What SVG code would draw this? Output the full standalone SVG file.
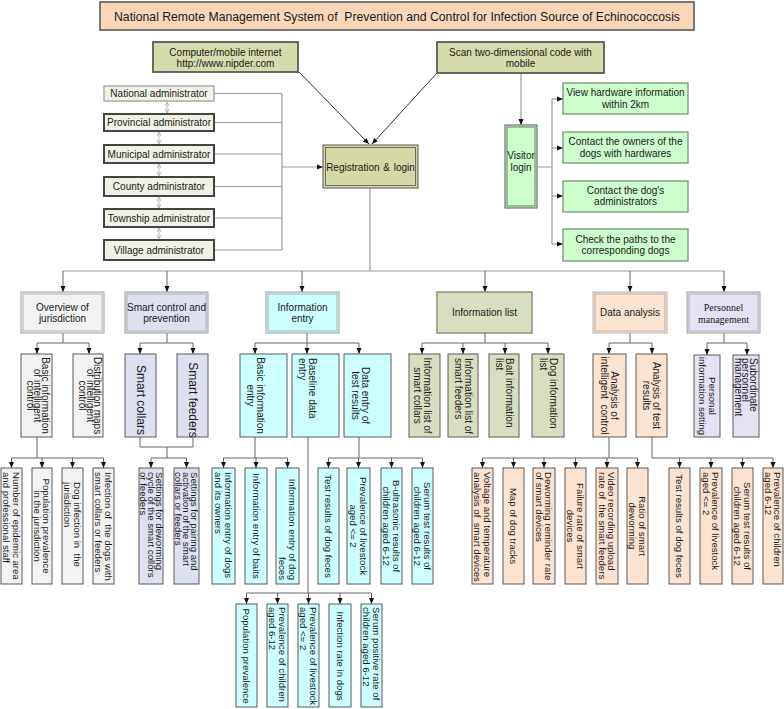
<svg xmlns="http://www.w3.org/2000/svg" width="784" height="709" viewBox="0 0 784 709">
<defs>
<style>
text{font-family:"Liberation Sans",Arial,Helvetica,sans-serif;fill:#1a1a1a}
.h{font-size:10px;text-anchor:middle}
.v{font-size:9.6px}
.v3{font-size:10px}
.serif{font-family:"Liberation Serif","Times New Roman",serif}
.ln{stroke:#666;stroke-width:1;fill:none}
.lg{stroke:#999;stroke-width:1.2;fill:none}
.dk{stroke:#333;stroke-width:1;fill:none}
.ar{marker-end:url(#ah)}
.da{marker-start:url(#dh);marker-end:url(#dh);stroke:#bbb;stroke-width:1;fill:none}
.gy{fill:#f2f2f2}
.bl{fill:#dde0ef}
.cy{fill:#ccffff}
.ol{fill:#d8dec1}
.pc{fill:#fbe3d2}
.lv{fill:#e3e1f2}
.b3{stroke:#5a5a5a;stroke-width:1}
.o2{stroke:#a0a0a0;stroke-width:1}
.i2{fill:none;stroke:#b0b0b0;stroke-width:1}
.adm{fill:#eff1e5;stroke:#444;stroke-width:2}
.gr{fill:#ccffcc;stroke:#6f8a6f;stroke-width:1.2}
</style>
<marker id="ah" viewBox="0 0 6 6" refX="6" refY="3" markerWidth="6" markerHeight="6" orient="auto" markerUnits="userSpaceOnUse"><path d="M0,0.5 L6,3 L0,5.5z" fill="#111"/></marker>
<marker id="dh" viewBox="0 0 6 6" refX="5" refY="3" markerWidth="5" markerHeight="5" orient="auto-start-reverse" markerUnits="userSpaceOnUse"><path d="M0.5,0.5 L5.5,3 L0.5,5.5" fill="none" stroke="#aaa" stroke-width="1"/></marker>
</defs>
<rect width="784" height="709" fill="#fff"/>

<g id="connectors">
<path class="dk ar" d="M299,72 L369,144"/>
<path class="dk ar" d="M437,73 L372,144"/>
<path class="lg" d="M214,93.5H282 M214,122.5H282 M214,154H282 M214,186.5H282 M214,218H282 M214,250H282 M282,93.5V250"/>
<path class="lg ar" d="M282,167H323"/>
<path class="da" d="M167,102.5V112.5"/>
<path class="da" d="M159,132.5V143.5"/>
<path class="da" d="M159,164.5V175.5"/>
<path class="da" d="M159,197.5V207.5"/>
<path class="da" d="M159,228.5V238.5"/>
<path class="lg ar" d="M521,73V125"/>
<path class="lg" d="M537,167H552 M552,99V244"/>
<path class="lg ar" d="M552,99H563"/>
<path class="lg ar" d="M552,148H563"/>
<path class="lg ar" d="M552,196H563"/>
<path class="lg ar" d="M552,244H563"/>
<path class="lg" d="M370,188V271 M63,271H724"/>
<path class="ln ar" d="M63,271V292"/>
<path class="ln ar" d="M167,271V292"/>
<path class="ln ar" d="M302,271V292"/>
<path class="ln ar" d="M485,271V292"/>
<path class="ln ar" d="M630,271V292"/>
<path class="ln ar" d="M724,271V292"/>
<path class="ln" d="M63,333V343 M37,343H89 M167,333V343 M140,343H193 M307,333V343 M255,343H359 M485,333V343 M422,343H548 M630,333V343 M609,343H652 M724,333V343 M707,343H747"/>
<path class="ln ar" d="M37,343V354"/>
<path class="ln ar" d="M89,343V354"/>
<path class="ln ar" d="M140,343V354"/>
<path class="ln ar" d="M193,343V354"/>
<path class="ln ar" d="M255,343V354"/>
<path class="ln ar" d="M307,343V354"/>
<path class="ln ar" d="M359,343V354"/>
<path class="ln ar" d="M422,343V354"/>
<path class="ln ar" d="M463,343V354"/>
<path class="ln ar" d="M505,343V354"/>
<path class="ln ar" d="M548,343V354"/>
<path class="ln ar" d="M609,343V354"/>
<path class="ln ar" d="M652,343V354"/>
<path class="ln ar" d="M707,343V355"/>
<path class="ln ar" d="M747,343V355"/>
<path class="ln" d="M37,437V458 M11.5,458H103.5 M140,437V447H193V437 M167,447V458 M151,458H186.5 M255,437V458 M223.5,458H287.5 M308,437V593 M246.5,593H371.5 M359,437V458 M328.5,458H422.5 M609,437V458 M482.5,458H637.5 M652,437V458H773"/>
<path class="ln ar" d="M11.5,458V468"/>
<path class="ln ar" d="M42,458V468"/>
<path class="ln ar" d="M72.5,458V468"/>
<path class="ln ar" d="M103.5,458V468"/>
<path class="ln ar" d="M151,458V468"/>
<path class="ln ar" d="M186.5,458V468"/>
<path class="ln ar" d="M223.5,458V468"/>
<path class="ln ar" d="M256,458V468"/>
<path class="ln ar" d="M287.5,458V468"/>
<path class="ln ar" d="M328.5,458V468"/>
<path class="ln ar" d="M358.5,458V468"/>
<path class="ln ar" d="M391.5,458V468"/>
<path class="ln ar" d="M422.5,458V468"/>
<path class="ln ar" d="M482.5,458V468"/>
<path class="ln ar" d="M513.5,458V468"/>
<path class="ln ar" d="M544,458V468"/>
<path class="ln ar" d="M575.5,458V468"/>
<path class="ln ar" d="M607,458V468"/>
<path class="ln ar" d="M637.5,458V468"/>
<path class="ln ar" d="M679.5,458V468"/>
<path class="ln ar" d="M711,458V468"/>
<path class="ln ar" d="M742.5,458V468"/>
<path class="ln ar" d="M773,458V468"/>
<path class="ln ar" d="M246.5,593V604"/>
<path class="ln ar" d="M277.5,593V604"/>
<path class="ln ar" d="M308.5,593V604"/>
<path class="ln ar" d="M340,593V604"/>
<path class="ln ar" d="M371.5,593V604"/>
</g>

<g id="title"><rect x="100" y="2" width="594" height="28" fill="#fbd6b8" stroke="#6b6b6b" stroke-width="1.8"/><text x="397" y="20.5" font-size="13" text-anchor="middle" textLength="566" lengthAdjust="spacingAndGlyphs" xml:space="preserve">National Remote Management System of  Prevention and Control for Infection Source of Echinococcosis</text></g>

<g id="computer"><rect x="153" y="42" width="145" height="30" fill="#d6dbab" stroke="#5a5a5a" stroke-width="1.8"/><text class="h"><tspan x="225.5" y="55.5">Computer/mobile internet</tspan><tspan x="225.5" y="67">http://www.nipder.com</tspan></text></g>
<g id="scan"><rect x="437" y="42" width="167" height="31" fill="#d6dbab" stroke="#5a5a5a" stroke-width="1.8"/><text class="h"><tspan x="520.5" y="55.5">Scan two-dimensional code with</tspan><tspan x="520.5" y="67">mobile</tspan></text></g>
<g id="registration"><rect x="323" y="145" width="95" height="43" fill="#d3d8a5" stroke="#555" stroke-width="1"/><rect x="325.5" y="147.5" width="90" height="38" fill="none" stroke="#555" stroke-width="0.8"/><text class="h" x="370.5" y="170.5" word-spacing="1">Registration &amp; login</text></g>

<g id="adm-national"><rect x="104" y="86" width="110" height="15" fill="#f1f3e7" stroke="#aaa" stroke-width="1.5"/><text class="h" x="159" y="97">National administrator</text></g>
<g id="adm-provincial"><rect class="adm" x="104" y="114" width="110" height="17"/><text class="h" x="159" y="126">Provincial administrator</text></g>
<g id="adm-municipal"><rect class="adm" x="104" y="145" width="110" height="18"/><text class="h" x="159" y="157.5">Municipal administrator</text></g>
<g id="adm-county"><rect class="adm" x="104" y="177" width="110" height="19"/><text class="h" x="159" y="190">County administrator</text></g>
<g id="adm-township"><rect class="adm" x="104" y="209" width="110" height="18"/><text class="h" x="159" y="221.5">Township administrator</text></g>
<g id="adm-village"><rect class="adm" x="104" y="240" width="110" height="20"/><text class="h" x="159" y="253.5">Village administrator</text></g>

<g id="visitor"><rect x="505" y="125" width="32" height="83" fill="#ccffcc" stroke="#555" stroke-width="1"/><rect x="507" y="127" width="28" height="79" fill="none" stroke="#555" stroke-width="0.8"/><text class="h"><tspan x="521" y="159">Visitor</tspan><tspan x="521" y="171">login</tspan></text></g>
<g id="v-hardware"><rect class="gr" x="563" y="83" width="125" height="31"/><text class="h"><tspan x="625.5" y="96.2">View hardware information</tspan><tspan x="625.5" y="107.6">within 2km</tspan></text></g>
<g id="v-owners"><rect class="gr" x="563" y="132" width="125" height="31"/><text class="h"><tspan x="625.5" y="145.2">Contact the owners of the</tspan><tspan x="625.5" y="156.8">dogs with hardwares</tspan></text></g>
<g id="v-admins"><rect class="gr" x="563" y="181" width="125" height="31"/><text class="h"><tspan x="625.5" y="193.6">Contact the dog's</tspan><tspan x="625.5" y="205.2">administrators</tspan></text></g>
<g id="v-paths"><rect class="gr" x="563" y="229" width="125" height="32"/><text class="h"><tspan x="625.5" y="242.5">Check the paths to the</tspan><tspan x="625.5" y="254.2">corresponding dogs</tspan></text></g>

<g id="overview"><rect class="gy o2" x="21" y="292" width="83" height="41"/><rect class="i2" x="23" y="294" width="79" height="37"/><text class="h"><tspan x="62.5" y="310.5">Overview of</tspan><tspan x="62.5" y="322">jurisdiction</tspan></text></g>
<g id="smart"><rect class="bl o2" x="125" y="292" width="83" height="41"/><rect class="i2" x="127" y="294" width="79" height="37"/><text class="h"><tspan x="166.5" y="310.5">Smart control and</tspan><tspan x="166.5" y="322">prevention</tspan></text></g>
<g id="entry"><rect class="cy o2" x="266" y="292" width="73" height="41"/><rect class="i2" x="268" y="294" width="69" height="37"/><text class="h"><tspan x="302.5" y="310.5">Information</tspan><tspan x="302.5" y="322">entry</tspan></text></g>
<g id="list"><rect class="ol" x="437" y="292" width="95" height="41" stroke="#8a8f78" stroke-width="1.5"/><text class="h" x="484.5" y="316">Information list</text></g>
<g id="analysis"><rect class="pc" x="593" y="292" width="74" height="41" stroke="#bfb0a6" stroke-width="1"/><rect class="i2" x="595" y="294" width="70" height="37" stroke="#c8b8ad"/><text class="h" x="630" y="316">Data analysis</text></g>
<g id="personnel"><rect class="lv o2" x="687" y="292" width="73" height="41"/><rect class="i2" x="689" y="294" width="69" height="37"/><text class="h serif"><tspan x="723.5" y="310.5">Personnel</tspan><tspan x="723.5" y="322.5">management</tspan></text></g>

<g id="ov-basic"><rect class="gy b3" x="21" y="354" width="31" height="83"/><text class="v3" transform="translate(37.5,395.5) rotate(90)" text-anchor="middle"><tspan x="0" y="-4">Basic information</tspan><tspan x="0" dy="7.5">of intelligent</tspan><tspan x="0" dy="7.5">control</tspan></text></g>
<g id="ov-maps"><rect class="gy b3" x="73" y="354" width="30" height="83"/><text class="v3" transform="translate(90,395.5) rotate(90)" text-anchor="middle"><tspan x="0" y="-4">Distribution maps</tspan><tspan x="0" dy="7.5">of intelligent</tspan><tspan x="0" dy="7.5">control</tspan></text></g>
<g id="sc-collars"><rect class="bl b3" x="125" y="354" width="31" height="83"/><text font-size="12" transform="translate(141,400) rotate(90)" text-anchor="middle" y="4.2">Smart collars</text></g>
<g id="sc-feeders"><rect class="bl b3" x="177" y="354" width="31" height="83"/><text font-size="12" transform="translate(193,400) rotate(90)" text-anchor="middle" y="4.2">Smart feeders</text></g>
<g id="ie-basic"><rect class="cy b3" x="240" y="354" width="47" height="83"/><text class="v3" transform="translate(255,395.5) rotate(90)" text-anchor="middle"><tspan x="0" y="-1.5">Basic information</tspan><tspan x="0" dy="10">entry</tspan></text></g>
<g id="ie-baseline"><rect class="cy b3" x="292" y="354" width="47" height="83"/><text class="v3" transform="translate(307.5,358) rotate(90)"><tspan x="0" y="-1.5">Baseline data</tspan><tspan x="0" dy="10">entry</tspan></text></g>
<g id="ie-test"><rect class="cy b3" x="344" y="354" width="47" height="83"/><text class="v3" transform="translate(360,395.5) rotate(90)" text-anchor="middle"><tspan x="0" y="-1.5">Data entry of</tspan><tspan x="0" dy="10">test results</tspan></text></g>
<g id="il-collars"><rect class="ol b3" x="409" y="354" width="31" height="83"/><text class="v3" transform="translate(422.5,395.5) rotate(90)" text-anchor="middle"><tspan x="0" y="-1.5">Information list of</tspan><tspan x="0" dy="10">smart collars</tspan></text></g>
<g id="il-feeders"><rect class="ol b3" x="448" y="354" width="30" height="83"/><text class="v3" transform="translate(463,358) rotate(90)"><tspan x="0" y="-1.5">Information list of</tspan><tspan x="0" dy="10">smart feeders</tspan></text></g>
<g id="il-bait"><rect class="ol b3" x="489" y="354" width="30" height="83"/><text class="v3" transform="translate(504.5,358) rotate(90)"><tspan x="0" y="-1.5">Bait information</tspan><tspan x="0" dy="10">list</tspan></text></g>
<g id="il-dog"><rect class="ol b3" x="532" y="354" width="32" height="83"/><text class="v3" transform="translate(548,358) rotate(90)"><tspan x="0" y="-1.5">Dog information</tspan><tspan x="0" dy="10">list</tspan></text></g>
<g id="da-control"><rect class="pc b3" x="593" y="354" width="33" height="83"/><text class="v3" transform="translate(609.5,395.5) rotate(90)" text-anchor="middle" xml:space="preserve"><tspan x="0" y="-1.5">Analysis of</tspan><tspan x="0" dy="10">intelligent  control</tspan></text></g>
<g id="da-test"><rect class="pc b3" x="636" y="354" width="31" height="83"/><text class="v3" transform="translate(651.5,395.5) rotate(90)" text-anchor="middle"><tspan x="0" y="-1.5">Analysis of test</tspan><tspan x="0" dy="10">results</tspan></text></g>
<g id="pm-personal"><rect class="lv b3" x="694" y="355" width="26" height="82"/><text class="v" transform="translate(707,396) rotate(90)" text-anchor="middle"><tspan x="0" y="-1.6">Personal</tspan><tspan x="0" dy="10">information setting</tspan></text></g>
<g id="pm-sub"><rect class="lv b3" x="733" y="355" width="26" height="82"/><text class="v3" transform="translate(745.5,358) rotate(90)"><tspan x="0" y="-4">Subordinate</tspan><tspan x="0" dy="7.5">personnel</tspan><tspan x="0" dy="7.5">management</tspan></text></g>

<g id="ov-staff"><rect class="gy b3" x="1" y="468" width="21" height="116"/><text class="v" transform="translate(11.5,472) rotate(90)"><tspan x="0" y="-1.4">Number of epidemic area</tspan><tspan x="0" dy="9.5">and professional staff</tspan></text></g>
<g id="ov-population"><rect class="gy b3" x="32" y="468" width="20" height="116"/><text class="v" transform="translate(42,526) rotate(90)" text-anchor="middle"><tspan x="0" y="-1.4">Population prevalence</tspan><tspan x="0" dy="9.5">in the jurisdiction</tspan></text></g>
<g id="ov-dog"><rect class="gy b3" x="62" y="468" width="21" height="116"/><text class="v" transform="translate(72.5,482) rotate(90)" xml:space="preserve"><tspan x="0" y="-1.4">Dog infection in  the</tspan><tspan x="0" dy="9.5">jurisdiction</tspan></text></g>
<g id="ov-infection"><rect class="gy b3" x="93" y="468" width="21" height="116"/><text class="v" transform="translate(103.5,472) rotate(90)" xml:space="preserve"><tspan x="0" y="-1.4">Infection of  the dogs with</tspan><tspan x="0" dy="9.5">smart collars or feeders</tspan></text></g>
<g id="sc-cycle"><rect class="bl b3" x="139" y="468" width="24" height="116"/><text class="v" transform="translate(151,472) rotate(90)"><tspan x="0" y="-4.6">Settings for deworming</tspan><tspan x="0" dy="8">cycle of the smart collors</tspan><tspan x="0" dy="8">or feeders</tspan></text></g>
<g id="sc-pairing"><rect class="bl b3" x="174" y="468" width="25" height="116"/><text class="v" transform="translate(186.5,472) rotate(90)"><tspan x="0" y="-4.6">Settings for pairing and</tspan><tspan x="0" dy="8">activation of the smart</tspan><tspan x="0" dy="8">collars or feeders</tspan></text></g>
<g id="ie-dogs"><rect class="cy b3" x="212" y="468" width="23" height="116"/><text class="v" transform="translate(223.5,472) rotate(90)"><tspan x="0" y="-1.4">Information entry of dogs</tspan><tspan x="0" dy="9.5">and its owners</tspan></text></g>
<g id="ie-baits"><rect class="cy b3" x="245" y="468" width="22" height="116"/><text class="v" transform="translate(256,526) rotate(90)" text-anchor="middle" y="3.4">Information entry of baits</text></g>
<g id="ie-feces"><rect class="cy b3" x="276" y="468" width="23" height="116"/><text class="v" transform="translate(287.5,580) rotate(90)" text-anchor="end"><tspan x="0" y="-1.4">Information entry of dog</tspan><tspan x="0" dy="9.5">feces</tspan></text></g>
<g id="tr-feces"><rect class="cy b3" x="318" y="468" width="21" height="116"/><text class="v" transform="translate(328.5,526) rotate(90)" text-anchor="middle" y="3.4">Test results of dog feces</text></g>
<g id="tr-livestock"><rect class="cy b3" x="347" y="468" width="23" height="116"/><text class="v" transform="translate(358.5,526) rotate(90)" text-anchor="middle"><tspan x="0" y="-1.6">Prevalence of livestock</tspan><tspan x="0" dy="10">aged &lt;= 2</tspan></text></g>
<g id="tr-bultra"><rect class="cy b3" x="381" y="468" width="21" height="116"/><text class="v" transform="translate(391.5,526) rotate(90)" text-anchor="middle"><tspan x="0" y="-1.6">B-ultrasonic results of</tspan><tspan x="0" dy="10">children aged 6-12</tspan></text></g>
<g id="tr-serum"><rect class="cy b3" x="412" y="468" width="21" height="116"/><text class="v" transform="translate(422.5,526) rotate(90)" text-anchor="middle"><tspan x="0" y="-1.6">Serum test results of</tspan><tspan x="0" dy="10">children aged 6-12</tspan></text></g>
<g id="ai-voltage"><rect class="pc b3" x="472" y="468" width="21" height="116"/><text class="v" transform="translate(482.5,472) rotate(90)" xml:space="preserve"><tspan x="0" y="-1.4">Voltage and temperature</tspan><tspan x="0" dy="9.5">analysis of  smart devices</tspan></text></g>
<g id="ai-map"><rect class="pc b3" x="503" y="468" width="21" height="116"/><text class="v" transform="translate(513.5,526) rotate(90)" text-anchor="middle" y="3.4">Map of dog tracks</text></g>
<g id="ai-reminder"><rect class="pc b3" x="533" y="468" width="22" height="116"/><text class="v" transform="translate(544,472) rotate(90)"><tspan x="0" y="-1.4">Deworming reminder rate</tspan><tspan x="0" dy="9.5">of smart devices</tspan></text></g>
<g id="ai-failure"><rect class="pc b3" x="565" y="468" width="21" height="116"/><text class="v" transform="translate(575.5,526) rotate(90)" text-anchor="middle"><tspan x="0" y="-1.4">Failure rate of smart</tspan><tspan x="0" dy="9.5">devices</tspan></text></g>
<g id="ai-video"><rect class="pc b3" x="596" y="468" width="22" height="116"/><text class="v" transform="translate(607,472) rotate(90)" xml:space="preserve"><tspan x="0" y="-1.4">Video recording upload</tspan><tspan x="0" dy="9.5">rate of  the smart feeders</tspan></text></g>
<g id="ai-ratio"><rect class="pc b3" x="627" y="468" width="21" height="116"/><text class="v" transform="translate(637.5,526) rotate(90)" text-anchor="middle"><tspan x="0" y="-1.4">Ratio of smart</tspan><tspan x="0" dy="9.5">deworming</tspan></text></g>
<g id="at-feces"><rect class="pc b3" x="669" y="468" width="21" height="116"/><text class="v" transform="translate(679.5,526) rotate(90)" text-anchor="middle" y="3.4">Test results of dog feces</text></g>
<g id="at-livestock"><rect class="pc b3" x="700" y="468" width="22" height="116"/><text class="v" transform="translate(711,472) rotate(90)"><tspan x="0" y="-1.4">Prevalence of livestock</tspan><tspan x="0" dy="9.5">aged &lt;= 2</tspan></text></g>
<g id="at-serum"><rect class="pc b3" x="732" y="468" width="21" height="116"/><text class="v" transform="translate(742.5,526) rotate(90)" text-anchor="middle"><tspan x="0" y="-1.4">Serum test results of</tspan><tspan x="0" dy="9.5">children aged 6-12</tspan></text></g>
<g id="at-children"><rect class="pc b3" x="763" y="468" width="20" height="116"/><text class="v" transform="translate(773,472) rotate(90)"><tspan x="0" y="-1.4">Prevalence of children</tspan><tspan x="0" dy="9.5">aged 6-12</tspan></text></g>

<g id="bd-population"><rect class="cy b3" x="236" y="604" width="21" height="103"/><text class="v" transform="translate(246.5,656) rotate(90)" text-anchor="middle" y="3.4">Population prevalence</text></g>
<g id="bd-children"><rect class="cy b3" x="267" y="604" width="21" height="103"/><text class="v" transform="translate(277.5,607) rotate(90)"><tspan x="0" y="-1.6">Prevalence of children</tspan><tspan x="0" dy="10">aged 6-12</tspan></text></g>
<g id="bd-livestock"><rect class="cy b3" x="298" y="604" width="21" height="103"/><text class="v" transform="translate(308.5,607) rotate(90)"><tspan x="0" y="-1.6">Prevalence of livestock</tspan><tspan x="0" dy="10">aged &lt;= 2</tspan></text></g>
<g id="bd-dogs"><rect class="cy b3" x="329" y="604" width="22" height="103"/><text class="v" transform="translate(340,656) rotate(90)" text-anchor="middle" y="3.4">Infection rate in dogs</text></g>
<g id="bd-serum"><rect class="cy b3" x="361" y="604" width="21" height="103"/><text class="v" transform="translate(371.5,607) rotate(90)"><tspan x="0" y="-1.6">Serum positive rate of</tspan><tspan x="0" dy="10">children aged 6-12</tspan></text></g>
</svg>
